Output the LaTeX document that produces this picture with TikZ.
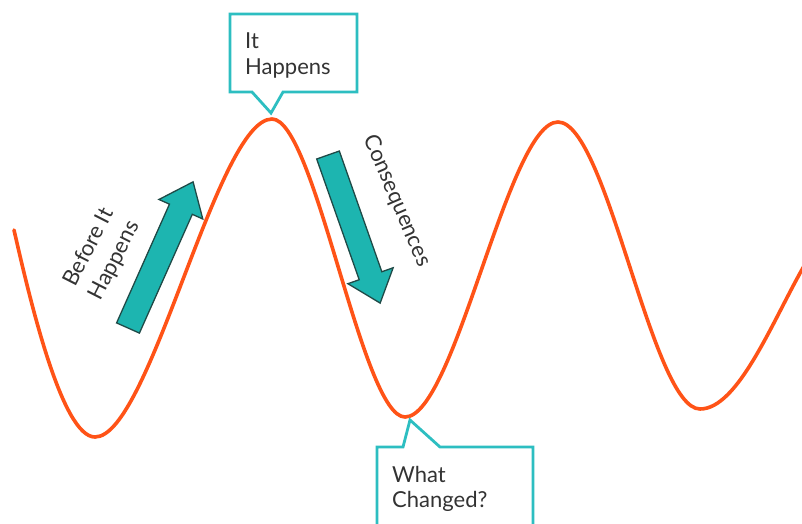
\documentclass[tikz,border=0pt]{standalone}
\usepackage{fontspec}
\setmainfont{Lato}
\definecolor{wave}{HTML}{FF5317}
\definecolor{callout}{HTML}{2DBEC1}
\definecolor{arrowfill}{HTML}{1DB5B0}
\definecolor{arrowline}{HTML}{1F4A47}
\definecolor{txt}{HTML}{333333}
\tikzset{
  wavepath/.style={draw=wave, line width=3.6pt, line cap=round},
  calloutbox/.style={draw=callout, line width=2.8pt, fill=white, line join=miter},
  fatarrow/.style={draw=arrowline, fill=arrowfill, line width=1.3pt, line join=miter},
  lbl/.style={text=txt, font=\fontsize{22}{26}\selectfont, inner sep=0pt},
  rlbl/.style={text=txt, font=\fontsize{22}{29}\selectfont, inner sep=0pt},
}
\begin{document}
\begin{tikzpicture}[x=1pt,y=-1pt]
\useasboundingbox[fill=white] (0,0) rectangle (802,523);
\clip (0,0) rectangle (802,523);
% wave
\coordinate (s) at (14,230);
\coordinate (t1) at (95,437);
\coordinate (p1) at (272,119);
\coordinate (t2) at (405,417);
\coordinate (p2) at (558,122);
\coordinate (t3) at (700,409);
\coordinate (e) at (804,266);
\draw[wavepath] (s) .. controls (30,300) and (62,437) .. (t1)
  .. controls (150,437) and (217,119) .. (p1)
  .. controls (315,119) and (362,417) .. (t2)
  .. controls (455,417) and (508,122) .. (p2)
  .. controls (607,122) and (652,409) .. (t3)
  .. controls (738,409) and (772,322) .. (e);
% callout top
\draw[calloutbox] (230,14) -- (357,14) -- (357,92) -- (283,92) -- (271,113) -- (252,92) -- (230,92) -- cycle;
\node[lbl, anchor=base west] (it) at (245,48) {It};
\node[lbl, anchor=base west] (hap) at (245,74) {Happens};
% callout bottom
\draw[calloutbox] (377,530) -- (377,447) -- (403,447) -- (410,420) -- (440,447) -- (533,447) -- (533,530);
\node[lbl, anchor=base west] (what) at (392,482) {What};
\node[lbl, anchor=base west] (chg) at (392,507) {Changed?};
% up arrow
\begin{scope}[shift={(128,328)}, rotate=66]
\draw[fatarrow] (0,-12.5) -- (130,-12.5) -- (130,-24) -- (160,0) -- (130,24) -- (130,12.5) -- (0,12.5) -- cycle;
\end{scope}
% down arrow
\begin{scope}[shift={(328,155)}, rotate=-70.6]
\draw[fatarrow] (0,-12) -- (128,-12) -- (128,-24) -- (157,0) -- (128,24) -- (128,12) -- (0,12) -- cycle;
\end{scope}
% rotated labels
\node[rlbl, rotate=63, align=center] (before) at (102,254) {Before It\\Happens};
\node[lbl, rotate=-66.8] (cons) at (397,201) {Consequences};
\end{tikzpicture}
\end{document}
